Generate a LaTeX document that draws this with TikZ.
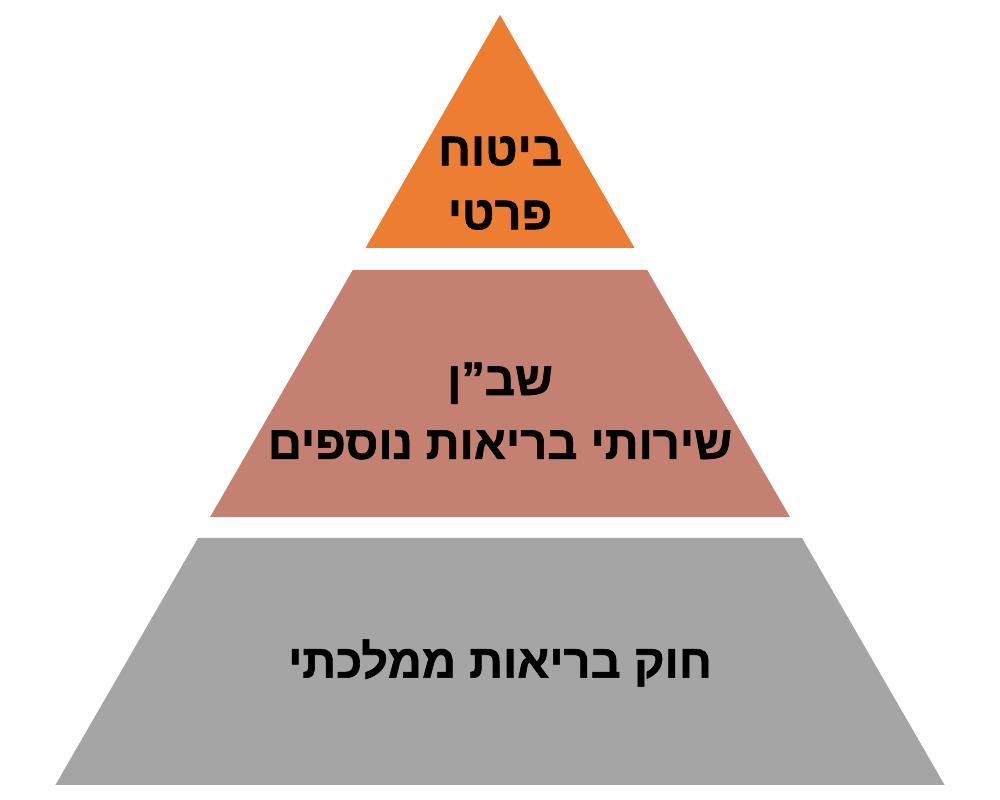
\documentclass[tikz,border=0pt]{standalone}
\usepackage{fontspec}
\setmainfont{Liberation Sans}
\newfontfamily\hebfont[Script=Hebrew, BoldFeatures={FakeBold=1.2}]{Liberation Sans}
\TeXXeTstate=1
\definecolor{tierorange}{HTML}{ED7D31}
\definecolor{tierrose}{HTML}{C48070}
\definecolor{tiergray}{HTML}{A5A5A5}
\tikzset{
  tierlabel/.style={align=center, inner sep=0pt, font=\hebfont\bfseries\fontsize{13.4}{18.2}\selectfont}
}
\begin{document}
\begin{tikzpicture}[x=0.1mm, y=-0.1mm]
    \useasboundingbox (0,0) rectangle (1000,800);
    % pyramid corners, one tier after the other
    \coordinate (apex) at (500,15);
    \coordinate (t1l) at (365.5,248); \coordinate (t1r) at (634.5,248);
    \coordinate (t2a) at (352.8,270); \coordinate (t2b) at (647.2,270);
    \coordinate (t2c) at (789.9,517); \coordinate (t2d) at (210.1,517);
    \coordinate (t3a) at (198,538);   \coordinate (t3b) at (802,538);
    \coordinate (t3c) at (944.6,785); \coordinate (t3d) at (55.4,785);
    \fill[tierorange] (apex)--(t1r)--(t1l)--cycle;
    \fill[tierrose] (t2a)--(t2b)--(t2c)--(t2d)--cycle;
    \fill[tiergray] (t3a)--(t3b)--(t3c)--(t3d)--cycle;
    % labels
    \node[tierlabel] (top) at (500,183) {\beginR ביטוח\endR\\\beginR פרטי\endR};
    \node[tierlabel] (mid) at (500,411) {\beginR שב”ן\endR\\\beginR שירותי בריאות נוספים\endR};
    \node[tierlabel] (base) at (500,663) {\beginR חוק בריאות ממלכתי\endR};
\end{tikzpicture}
\end{document}
